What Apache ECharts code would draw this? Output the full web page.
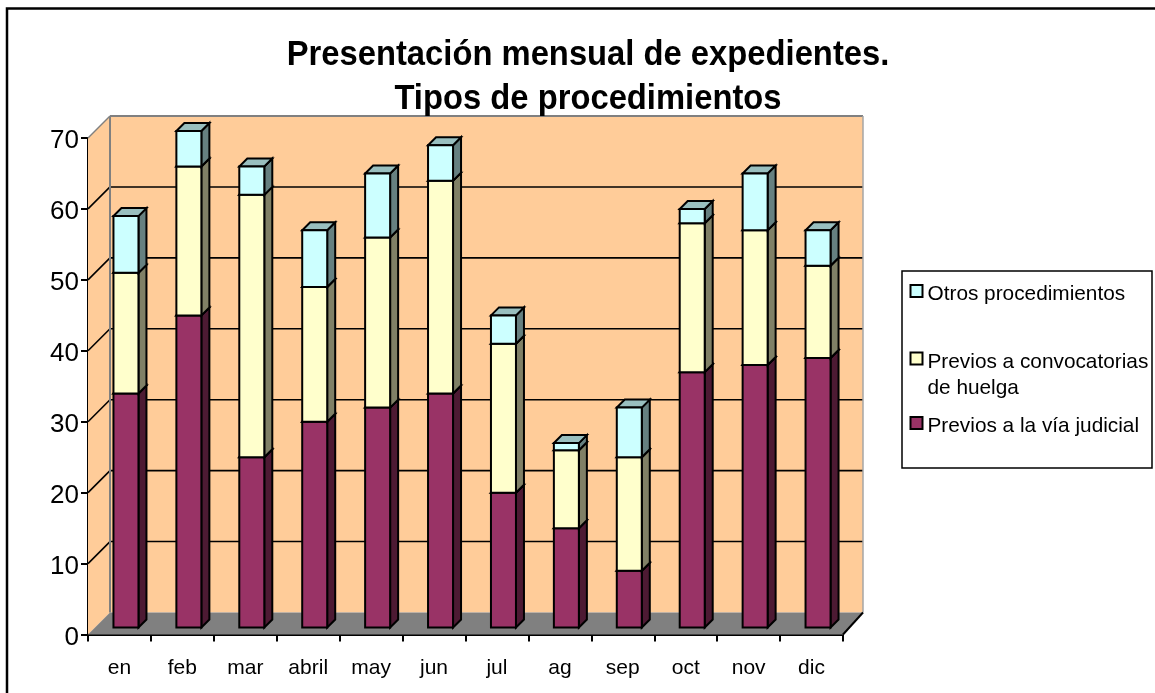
<!DOCTYPE html>
<html><head><meta charset="utf-8">
<style>html,body{margin:0;padding:0;background:#fff;overflow:hidden}#c{width:1155px;height:693px}</style>
<script src="https://cdn.jsdelivr.net/npm/echarts@6/dist/echarts.min.js"></script>
</head><body><div id="c"></div>
<script>
var titleText = 'Presentación mensual de expedientes.\nTipos de procedimientos';
var categories = ['en','feb','mar','abril','may','jun','jul','ag','sep','oct','nov','dic'];
var judicial = [33,44,24,29,31,33,19,14,8,36,37,38];
var huelga   = [17,21,37,19,24,30,21,11,16,21,19,13];
var otros    = [8,5,4,8,9,5,4,1,7,2,8,5];
var yTicks   = [0,10,20,30,40,50,60,70];
var nameJudicial = 'Previos a la vía judicial';
var nameHuelga = 'Previos a convocatorias de huelga';
var nameOtros = 'Otros procedimientos';

var FONT = '"Liberation Sans", Arial, sans-serif';
var WALL = {x:22, y:-22}, WALL_R = {x:20, y:-22}, BAR = {x:6.5, y:-7}, DEPTH = {x:8, y:-8}, BAR_W = 25;

function add(p,o){ return [p[0]+o.x, p[1]+o.y]; }

function poly(points, fill, stroke, lw){
  return {type:'polygon', shape:{points:points},
    style:{fill:fill, stroke:stroke||null, lineWidth:lw||0, lineJoin:'miter'}};
}
function line(a,b,color,lw){
  return {type:'line', shape:{x1:a[0],y1:a[1],x2:b[0],y2:b[1]}, style:{stroke:color, lineWidth:lw, fill:null}};
}

function renderBackdrop(params, api){
  var step = api.size([1,0])[0];
  var x0 = api.coord([0,0])[0]-step/2, x1 = api.coord([categories.length-1,0])[0]+step/2;
  var y0 = api.coord([0,0])[1], yT = api.coord([0,70])[1];
  var fl=[x0,y0], fr=[x1,y0], tl=[x0,yT];
  var bl=add(fl,WALL), br=add(fr,WALL_R), tb=add(tl,WALL), trb=[br[0],tb[1]];
  var ch=[
    poly([fl,bl,tb,tl],'#FFCC99'),
    poly([bl,br,trb,tb],'#FFCC99'),
    poly([fl,fr,br,bl],'#808080')
  ];
  yTicks.forEach(function(v){
    if(v===0||v===70) return;
    var y=api.coord([0,v])[1];
    ch.push(line([x0,y],add([x0,y],WALL),'#000',1.6));
    ch.push(line(add([x0,y],WALL),[br[0],y+WALL.y],'#000',1.6));
  });
  ch.push(line(tl,tb,'#808080',1.5));
  ch.push(line(tb,trb,'#808080',2));
  ch.push(line(tb,bl,'#808080',2));
  ch.push(line(trb,br,'#A6A6A6',1.5));
  ch.push(line(fr,br,'#000',2));
  return {type:'group',children:ch};
}

function renderSegment(front, side, top){
  return function(params, api){
    var i=api.value(0), lo=api.value(1), hi=api.value(2);
    var cx=api.coord([i,0])[0]+BAR.x;
    var yLo=api.coord([i,lo])[1]+BAR.y, yHi=api.coord([i,hi])[1]+BAR.y;
    var a=[cx-BAR_W/2,yLo], b=[cx+BAR_W/2,yLo], c=[cx+BAR_W/2,yHi], d=[cx-BAR_W/2,yHi];
    return {type:'group',children:[
      poly([b,add(b,DEPTH),add(c,DEPTH),c],side,'#000',2),
      poly([d,c,add(c,DEPTH),add(d,DEPTH)],top,'#000',2),
      poly([a,b,c,d],front,'#000',2)
    ]};
  };
}

var seriesData = [judicial,huelga,otros].map(function(arr,k,all){
  return arr.map(function(v,i){
    var lo=0; for(var j=0;j<k;j++) lo+=all[j][i];
    return [i,lo,lo+v];
  });
});

function seg(name,idx,front,side,top,z){
  return {type:'custom',name:name,data:seriesData[idx],z:z,clip:false,silent:true,
    encode:{x:0,y:2},
    itemStyle:{color:front,borderColor:'#000',borderWidth:1.5},
    renderItem:renderSegment(front,side,top)};
}
function legendAt(name,top,fmt,lh,pad){
  return {show:true,data:[name],left:909.5,top:top,orient:'vertical',itemWidth:12,itemHeight:12,itemGap:0,padding:0,
    icon:'rect',selectedMode:false,formatter:fmt||'{a|{name}}',
    textStyle:{fontFamily:FONT,fontSize:20.8,color:'#000',
      rich:{a:{fontFamily:FONT,fontSize:20.8,color:'#000',lineHeight:lh,padding:[pad,0,0,0]}}}};
}

var chart=echarts.init(document.getElementById('c'),null,{renderer:'canvas'});
chart.setOption({
  animation:false,
  backgroundColor:'#fff',
  legend:[
    legendAt(nameOtros,277,null,21,7),
    legendAt(nameHuelga,318,function(){return '{a| }\n{a|Previos a convocatorias}\n{a|de huelga}';},26,8),
    legendAt(nameJudicial,409,null,21,7)
  ],
  grid:{left:88,right:312,top:138,bottom:58.5},
  xAxis:{type:'category',data:categories,
    axisLine:{lineStyle:{color:'#000',width:2}},
    axisTick:{show:true,length:7,alignWithLabel:false,lineStyle:{color:'#000',width:2}},
    axisLabel:{fontFamily:FONT,fontSize:21,color:'#000',margin:23,interval:0},
    splitLine:{show:false}},
  yAxis:{type:'value',min:0,max:70,interval:10,
    axisLine:{show:true,lineStyle:{color:'#000',width:2}},
    axisTick:{show:true,length:7,lineStyle:{color:'#000',width:2}},
    axisLabel:{color:'#000',margin:9,formatter:'{a|{value}}',
      rich:{a:{fontFamily:FONT,fontSize:26,color:'#000',padding:[6,0,0,0]}}},
    splitLine:{show:false}},
  graphic:[
    {type:'rect',z:-1,shape:{x:7,y:8.5,width:1200,height:720},style:{fill:null,stroke:'#000',lineWidth:2.5}},
    {type:'rect',z:-1,shape:{x:902,y:271,width:250,height:197},style:{fill:'#fff',stroke:'#000',lineWidth:1.5}},
    {type:'text',z:100,x:588,y:33.5,scaleX:0.936,style:{text:titleText,fill:'#000',
      font:'bold 35px "Liberation Sans", Arial, sans-serif',lineHeight:44,align:'center',verticalAlign:'top'}}
  ],
  series:[
    {type:'custom',name:'fondo',data:[[0,0]],z:1,clip:false,silent:true,encode:{x:0,y:1},renderItem:renderBackdrop},
    seg(nameJudicial,0,'#993366','#4D1A33','#73264D',2),
    seg(nameHuelga,1,'#FFFFCC','#808066','#BFBF99',3),
    seg(nameOtros,2,'#CCFFFF','#668080','#99BFBF',4)
  ]
});
</script></body></html>
